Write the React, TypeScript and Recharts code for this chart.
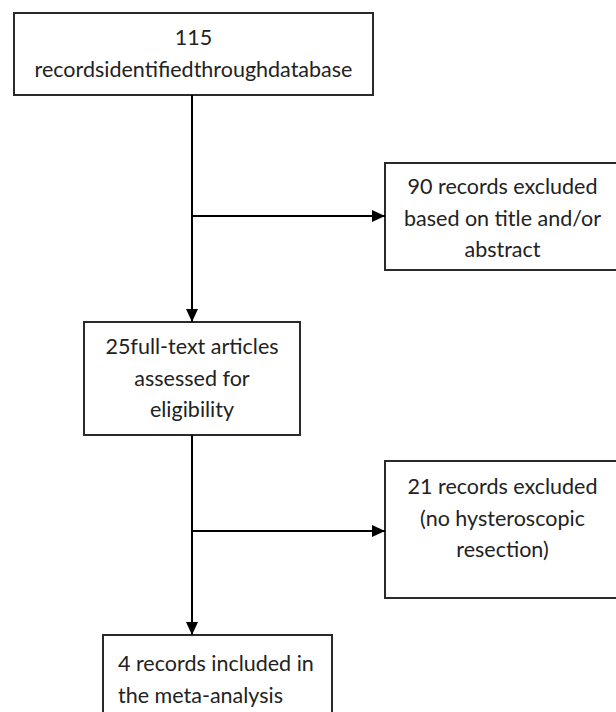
import { ComposedChart, XAxis, YAxis, ReferenceArea, ReferenceLine, ReferenceDot } from "recharts";

const W = 616;
const H = 712;

// flow steps (counts and wording as printed)
const recordCounts = [115, 90, 25, 21, 4];
const stepLines = [
  [`${recordCounts[0]}`, "recordsidentifiedthroughdatabase"],
  [`${recordCounts[1]} records excluded`, "based on title and/or", "abstract"],
  [`${recordCounts[2]}full-text articles`, "assessed for", "eligibility"],
  [`${recordCounts[3]} records excluded`, "(no hysteroscopic", "resection)"],
  [`${recordCounts[4]} records included in`, "the meta-analysis"],
];

// layout in page pixels
const boxes = [
  { x1: 14, x2: 373, y1: 13, y2: 95, first: 37, align: "middle" },
  { x1: 385, x2: 620, y1: 163, y2: 270, first: 186, align: "middle" },
  { x1: 84, x2: 300, y1: 322, y2: 435, first: 346, align: "middle" },
  { x1: 385, x2: 620, y1: 461, y2: 598, first: 486, align: "middle" },
  { x1: 103, x2: 332, y1: 635, y2: 740, first: 663, align: "start" },
];
const trunkX = 192;
const branchY = [216, 531];
const LH = 31.5;
const FONT = "Lato, 'Noto Sans', sans-serif";

const boxLabel = (lines: string[], first: number, align: string) => (props: any) => {
  const vb = props.viewBox;
  const tx = align === "start" ? vb.x + 15 : vb.x + vb.width / 2;
  return (
    <text textAnchor={align} fontFamily={FONT} fontSize={21.5} fill="#222">
      {lines.map((l, i) => (
        <tspan key={i} x={tx} y={first + i * LH} dominantBaseline="central">
          {l}
        </tspan>
      ))}
    </text>
  );
};

const downHead = (props: any) => {
  const { cx, cy } = props;
  return <polygon points={`${cx - 6},${cy - 13} ${cx + 6},${cy - 13} ${cx},${cy}`} fill="#000" />;
};
const rightHead = (props: any) => {
  const { cx, cy } = props;
  return <polygon points={`${cx - 13},${cy - 6} ${cx - 13},${cy + 6} ${cx},${cy}`} fill="#000" />;
};

export default function App() {
  return (
    <div style={{ position: "fixed", left: 0, top: 0, width: W, height: H, background: "#fff", overflow: "hidden" }}>
      <ComposedChart width={W} height={H} margin={{ top: 0, right: 0, bottom: 0, left: 0 }} data={[]}>
        <XAxis type="number" dataKey="x" domain={[0, W]} hide allowDataOverflow />
        <YAxis type="number" dataKey="y" domain={[0, H]} hide reversed allowDataOverflow />
        {/* trunk */}
        <ReferenceLine
          segment={[{ x: trunkX, y: boxes[0].y2 }, { x: trunkX, y: boxes[2].y1 }]}
          stroke="#000"
          strokeWidth={2}
          ifOverflow="visible"
        />
        <ReferenceLine
          segment={[{ x: trunkX, y: boxes[2].y2 }, { x: trunkX, y: boxes[4].y1 }]}
          stroke="#000"
          strokeWidth={2}
          ifOverflow="visible"
        />
        {branchY.map((y, i) => (
          <ReferenceLine
            key={i}
            segment={[{ x: trunkX, y }, { x: boxes[1].x1, y }]}
            stroke="#000"
            strokeWidth={2}
            ifOverflow="visible"
          />
        ))}
        {boxes.map((b, i) => (
          <ReferenceArea
            key={i}
            x1={b.x1}
            x2={b.x2}
            y1={b.y1}
            y2={b.y2}
            fill="#fff"
            fillOpacity={1}
            stroke="#2a2a2a"
            strokeWidth={2}
            ifOverflow="visible"
            label={boxLabel(stepLines[i], b.first, b.align)}
          />
        ))}
        <ReferenceDot x={trunkX} y={boxes[2].y1} r={6} ifOverflow="visible" shape={downHead} />
        <ReferenceDot x={trunkX} y={boxes[4].y1} r={6} ifOverflow="visible" shape={downHead} />
        {branchY.map((y, i) => (
          <ReferenceDot key={i} x={boxes[1].x1} y={y} r={6} ifOverflow="visible" shape={rightHead} />
        ))}
      </ComposedChart>
    </div>
  );
}
